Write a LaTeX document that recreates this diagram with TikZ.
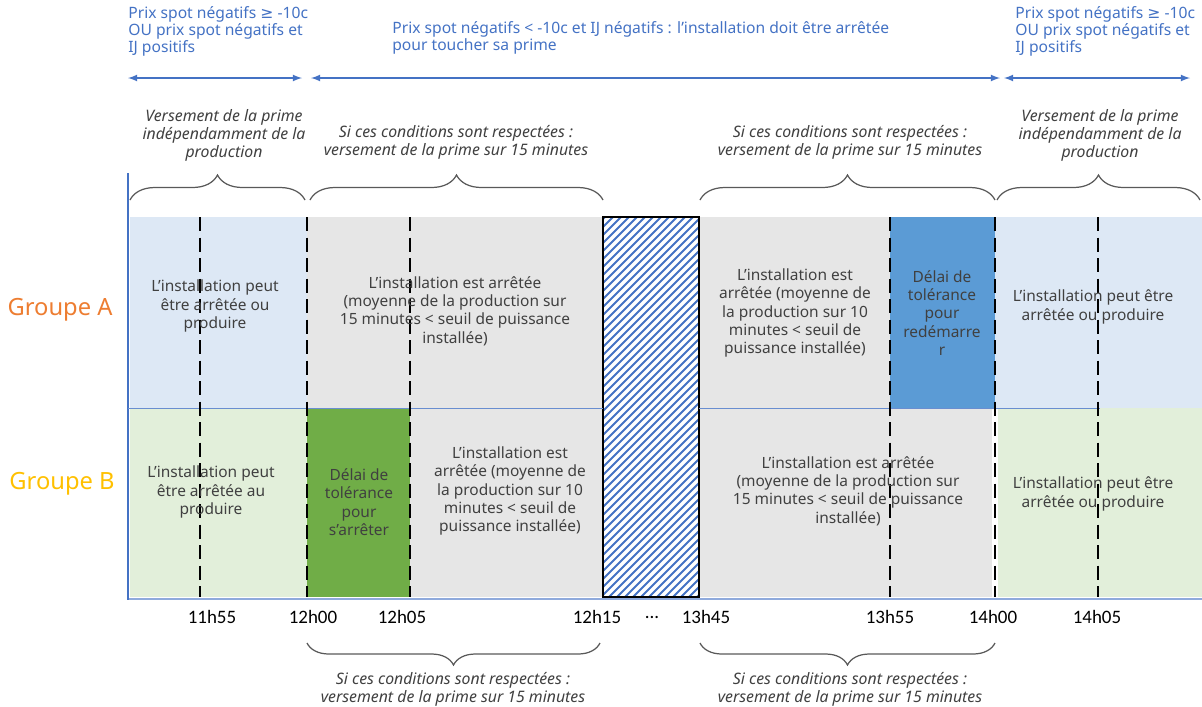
\documentclass[tikz,border=0pt]{standalone}
\usepackage{fontspec}
\setmainfont{Noto Sans}
\newfontfamily\narrowfont{Carlito}
\newfontfamily\symfont{DejaVu Sans}
\usetikzlibrary{arrows,positioning,calc,decorations.pathreplacing}
\definecolor{paleblue}{HTML}{DDE8F5}
\definecolor{palegreen}{HTML}{E2EFDA}
\definecolor{stopgrey}{HTML}{E6E6E6}
\definecolor{okgreen}{HTML}{70AD47}
\definecolor{okblue}{HTML}{5B9BD5}
\definecolor{axisblue}{HTML}{8FAADC}
\definecolor{inkblue}{HTML}{4472C4}
\definecolor{darkink}{HTML}{404040}
\definecolor{braceink}{HTML}{595959}
\definecolor{grporange}{HTML}{ED7D31}
\definecolor{grpyellow}{HTML}{FFC000}
\newcommand{\geqsym}{{\symfont ≥}}
\tikzset{
  cell text/.style={
    text=darkink,
    align=center,
    inner sep=0pt,
    font=\fontsize{8.8}{10.5}\selectfont
  },
  note text/.style={
    cell text,
    font=\fontsize{9}{10.3}\selectfont\itshape
  },
  price text/.style={
    text=inkblue,
    align=left,
    inner sep=0pt,
    anchor=north west,
    font=\fontsize{8.9}{9.7}\selectfont
  },
  time text/.style={
    text=black,
    inner sep=0pt,
    font=\narrowfont\fontsize{10.8}{12}\selectfont
  },
  group text/.style={
    inner sep=0pt,
    font=\fontsize{13.5}{15}\selectfont
  },
  cut line/.style={
    draw=black,
    line width=1.4pt,
    dash pattern=on 2.8mm off 1.3mm
  },
  brace up/.style={
    draw=braceink,
    line width=0.7pt,
    decorate,
    decoration={brace,amplitude=5mm}
  },
  brace down/.style={
    draw=braceink,
    line width=0.7pt,
    decorate,
    decoration={brace,amplitude=4.4mm}
  },
  price arrow/.style={
    latex-latex,
    draw=inkblue,
    line width=0.8pt
  }
}
\begin{document}
\begin{tikzpicture}[x=0.2mm,y=-0.2mm]
    \useasboundingbox (0,0) rectangle (1202,706);

    % background of the two rows
    \fill[paleblue]  (130,217) rectangle (307,408);
    \fill[palegreen] (130,408) rectangle (307,597);
    \fill[stopgrey]  (307,217) rectangle (603,408);
    \fill[okgreen]   (307,408) rectangle (410,597);
    \fill[stopgrey]  (410,408) rectangle (603,597);
    \fill[stopgrey]  (699,217) rectangle (890,408);
    \fill[okblue]    (890,217) rectangle (995,408);
    \fill[stopgrey]  (699,408) rectangle (992,597);
    \fill[paleblue]  (995,217) rectangle (1202,408);
    \fill[palegreen] (998,408) rectangle (1202,597);

    % hatched gap
    \begin{scope}
      \clip (603,217) rectangle (699,597);
      \fill[white] (603,217) rectangle (699,597);
      \foreach \k in {0,...,62}
        \draw[inkblue,line width=1.1pt] (600,{214+8*\k}) -- ++(130,-130);
    \end{scope}
    \draw[black,line width=0.8pt] (603,217) rectangle (699,597);

    % axes and row separator
    \draw[axisblue,line width=1.2pt] (128,599) -- (1202,599);
    \draw[inkblue,line width=0.6pt] (128,173) -- (128,600);
    \draw[inkblue!80,line width=0.5pt] (128,408) -- (603,408);
    \draw[inkblue!80,line width=0.5pt] (699,408) -- (1100,408);

    % time marks
    \foreach \x in {200,307,410,890,995,1098}
      \draw[cut line] (\x,217) -- (\x,597);

    \path{
      node[group text,text=grporange] (grpA) at (60,310) {Groupe A}
      node[group text,text=grpyellow] (grpB) at (62,484) {Groupe B}

      node[cell text] (a1) at (215,306) {L’installation peut\\être arrêtée ou\\produire}
      node[cell text] (a2) at (455,311) {L’installation est arrêtée\\(moyenne de la production sur\\15 minutes < seuil de puissance\\installée)}
      node[cell text] (a3) at (795,313) {L’installation est\\arrêtée (moyenne de\\la production sur 10\\minutes < seuil de\\puissance installée)}
      node[cell text] (a4) at (942,313) {Délai de\\tolérance\\pour\\redémarre\\r}
      node[cell text] (a5) at (1093,307) {L’installation peut être\\arrêtée ou produire}

      node[cell text] (b1) at (211,492) {L’installation peut\\être arrêtée au\\produire}
      node[cell text] (b2) at (359,502) {Délai de\\tolérance\\pour\\s’arrêter}
      node[cell text] (b3) at (510,491) {L’installation est\\arrêtée (moyenne de\\la production sur 10\\minutes < seuil de\\puissance installée)}
      node[cell text] (b4) at (848,491) {L’installation est arrêtée\\(moyenne de la production sur\\15 minutes < seuil de puissance\\installée)}
      node[cell text] (b5) at (1093,494) {L’installation peut être\\arrêtée ou produire}
    };

    % hours
    \path{
      node[time text] (t1155) at (212,617) {11h55}
      node[time text] (t1200) at (313,617) {12h00}
      node[time text] (t1205) at (402,617) {12h05}
      node[time text] (t1215) at (597,617) {12h15}
      node[time text] (tdots) at (652,617) {...}
      node[time text] (t1345) at (706,617) {13h45}
      node[time text] (t1355) at (890,617) {13h55}
      node[time text] (t1400) at (993,617) {14h00}
      node[time text] (t1405) at (1097,617) {14h05}
    };

    % price conditions
    \path{
      node[price text] (pxL) at (128,6) {Prix spot négatifs \geqsym{} -10c\\OU prix spot négatifs et\\IJ positifs}
      node[price text] (pxM) at (392,21) {Prix spot négatifs < -10c et IJ négatifs : l’installation doit être arrêtée\\pour toucher sa prime}
      node[price text] (pxR) at (1015,6) {Prix spot négatifs \geqsym{} -10c\\OU prix spot négatifs et\\IJ positifs}
    };
    \coordinate (arL1) at (128,78);
    \coordinate (arL2) at (302,78);
    \coordinate (arM1) at (311,78);
    \coordinate (arM2) at (1000,78);
    \coordinate (arR1) at (1004,78);
    \coordinate (arR2) at (1190,78);
    \draw[price arrow] (arL1) -- (arL2);
    \draw[price arrow] (arM1) -- (arM2);
    \draw[price arrow] (arR1) -- (arR2);

    % payment notes above
    \path{
      node[note text] (nT1) at (224,135) {Versement de la prime\\indépendamment de la\\production}
      node[note text] (nT2) at (456,142) {Si ces conditions sont respectées :\\versement de la prime sur 15 minutes}
      node[note text] (nT3) at (850,142) {Si ces conditions sont respectées :\\versement de la prime sur 15 minutes}
      node[note text] (nT4) at (1100,135) {Versement de la prime\\indépendamment de la\\production}
    };
    \draw[brace up] (130,200) -- (305,200);
    \draw[brace up] (310,200) -- (603,200);
    \draw[brace up] (700,200) -- (995,200);
    \draw[brace up] (997,200) -- (1200,200);

    % payment notes below
    \draw[brace down] (600,643) -- (307,643);
    \draw[brace down] (995,643) -- (700,643);
    \path{
      node[note text] (nB1) at (453,689) {Si ces conditions sont respectées :\\versement de la prime sur 15 minutes}
      node[note text] (nB2) at (850,689) {Si ces conditions sont respectées :\\versement de la prime sur 15 minutes}
    };
\end{tikzpicture}
\end{document}
